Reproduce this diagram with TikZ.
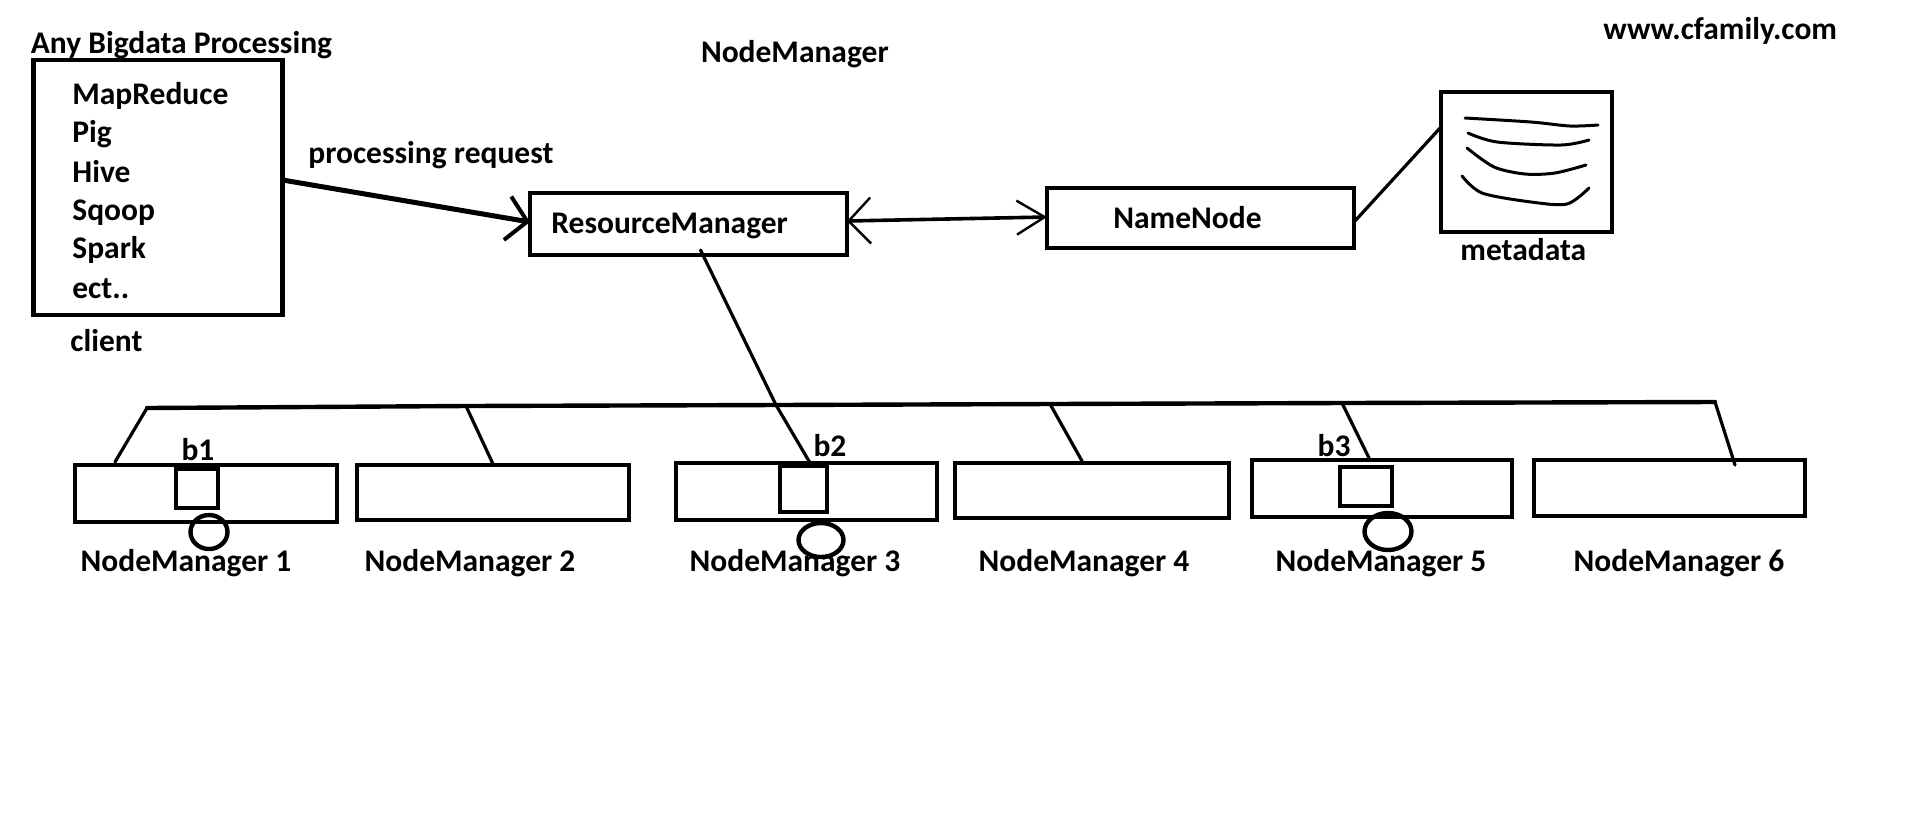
\documentclass[tikz,border=0pt]{standalone}
\usepackage{fontspec}
\setmainfont{Carlito}
\usetikzlibrary{arrows.meta,shapes.geometric}

\begin{document}
\begin{tikzpicture}[x=0.5pt,y=-0.5pt,
    lbl/.style={anchor=base west,inner sep=0pt,font=\fontsize{15.75}{19}\selectfont\bfseries},
    clbl/.style={lbl,anchor=base},
    box/.style={draw,line width=2.4pt,inner sep=0pt,outer sep=0pt},
    blk/.style={draw,line width=2.2pt,inner sep=0pt,outer sep=0pt},
    disk/.style={draw,ellipse,line width=2.2pt,inner sep=0pt,outer sep=0pt},
    wire/.style={line width=1.6pt,line cap=round},
    bus/.style={line width=2.2pt,line cap=round},
    ink/.style={line width=1.5pt,line cap=round},
    req/.style={line width=2.5pt,-{Straight Barb[length=10pt,width=22pt,line width=2pt]}},
    link/.style={line width=1.8pt,{Straight Barb[length=11pt,width=23pt,line width=1.2pt]}-{Straight Barb[length=14pt,width=17pt,line width=1.2pt]}}]
    \fill[white] (0,0) rectangle (1914,826);
    \useasboundingbox (0,0) rectangle (1914,826);
    % client side
    \node[box,minimum width=124.5pt,minimum height=127.5pt] (client) at (158,187.5) {};
    \node[lbl] (title) at (30.5,53) {Any Bigdata Processing};
    \foreach \name/\txt/\y in {mr/MapReduce/104,pig/Pig/142,hive/Hive/182,sqoop/Sqoop/220,spark/Spark/258,ect/ect../298}
        \node[lbl] (\name) at (72,\y) {\txt};
    \node[lbl] (clientlbl) at (70,351) {client};
    \node[lbl] (reqlbl) at (308,163) {processing request};
    \node[lbl] (nmhead) at (700.6,62) {NodeManager};
    \node[lbl] (site) at (1603,39) {www.cfamily.com};
    % masters
    \node[box,minimum width=158.5pt,minimum height=31pt] (rm) at (688.5,224) {};
    \node[lbl] (rmlbl) at (551,233) {ResourceManager};
    \node[box,minimum width=153.5pt,minimum height=30pt] (nn) at (1200.5,218) {};
    \node[lbl] (nnlbl) at (1113,228) {NameNode};
    \node[box,minimum width=85.5pt,minimum height=70pt] (meta) at (1526.5,162) {};
    \node[lbl] (metalbl) at (1460,260) {metadata};
    \draw[ink] plot[smooth] coordinates {(1465,118) (1531,122) (1570,126) (1598,125)};
    \draw[ink] plot[smooth] coordinates {(1468,133) (1497,142) (1561,145) (1589,140)};
    \draw[ink] plot[smooth] coordinates {(1467,148) (1494,167) (1525,174) (1555,173) (1586,165)};
    \draw[ink] plot[smooth] coordinates {(1462,176) (1482,193) (1531,202) (1567,204) (1589,188)};
    \draw[req] ([yshift=3.75pt]client.east) -- ([yshift=1pt]rm.west);
    \draw[link] ([yshift=1.5pt]rm.east) -- ([yshift=0.5pt]nn.west);
    \draw[wire] ([yshift=-2pt]nn.east) -- ([yshift=17.5pt]meta.west);
    % node managers
    \foreach \i/\x/\y/\w/\h in {1/206/493.5/131/28.5,2/493/492.5/136/27.5,3/806.5/491.5/130.5/28.5,4/1092/490.5/137/27.5,5/1382/488.5/130/28.5,6/1669.5/488/135.5/28}
        \node[box,minimum width=\w pt,minimum height=\h pt] (nm\i) at (\x,\y) {};
    \foreach \i/\x in {1/186,2/470,3/795,4/1084,5/1381,6/1679}
        \node[clbl] (nmlbl\i) at (\x,571) {NodeManager \i};
    \node[blk,minimum width=21pt,minimum height=19.5pt] (blk1) at (197,488.5) {};
    \node[blk,minimum width=23.5pt,minimum height=23pt] (blk2) at (803.5,489) {};
    \node[blk,minimum width=26pt,minimum height=19.5pt] (blk3) at (1366,486.5) {};
    \node[clbl] (blbl1) at (198,460) {b1};
    \node[clbl] (blbl2) at (830,456) {b2};
    \node[clbl] (blbl3) at (1334,456) {b3};
    \node[disk,minimum width=18.5pt,minimum height=17pt] (disk1) at (209,532) {};
    \node[disk,minimum width=22.5pt,minimum height=17pt] (disk3) at (821,540) {};
    \node[disk,minimum width=23.5pt,minimum height=18.5pt] (disk5) at (1388,531.5) {};
    % bus
    \coordinate (t1) at (147,408);
    \coordinate (t2) at (466,406);
    \coordinate (t3) at (776,405);
    \coordinate (t4) at (1050,404);
    \coordinate (t5) at (1342,403);
    \coordinate (t6) at (1715,402);
    \coordinate (e1) at (115,462);
    \coordinate (e2) at (493,464);
    \coordinate (e4) at (1082,461);
    \coordinate (e5) at (1369,458);
    \coordinate (e6) at (1735,465);
    \draw[bus] (t1) -- (t2) -- (t3) -- (t4) -- (t5) -- (t6);
    \foreach \i in {1,2,4,5,6}
        \draw[wire] (t\i) -- (e\i);
    \draw[wire] ([xshift=6pt,yshift=2.5pt]rm.south) -- (t3) -- ([xshift=3pt,yshift=2pt]blk2.north);
\end{tikzpicture}
\end{document}
